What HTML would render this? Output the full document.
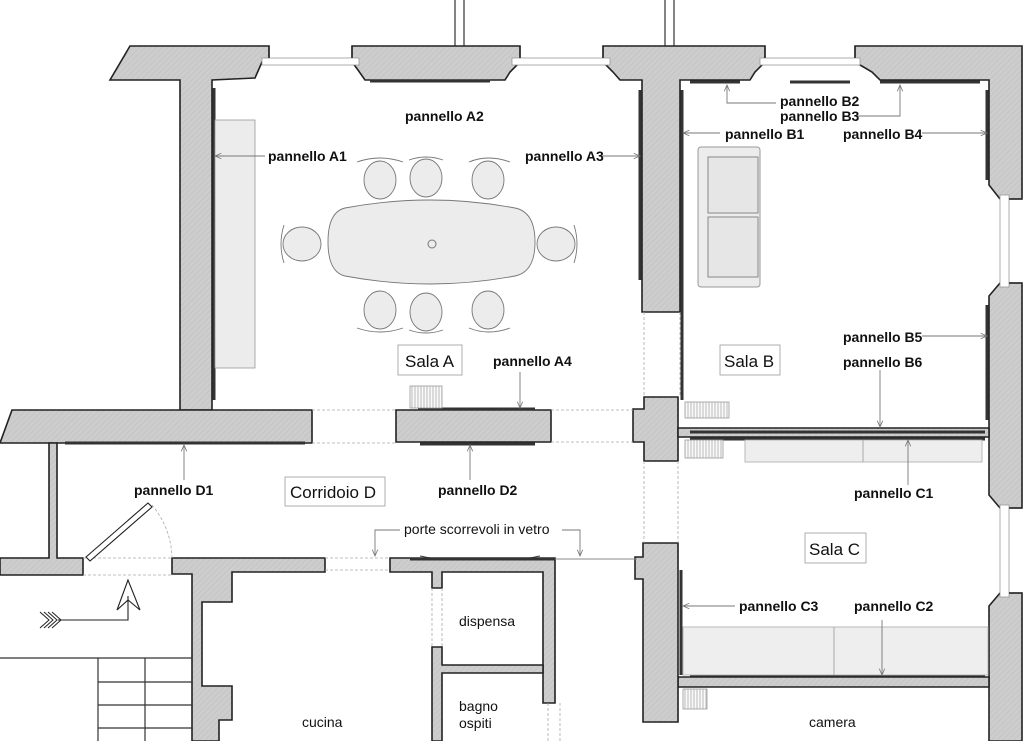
<!DOCTYPE html>
<html><head><meta charset="utf-8"><style>
html,body{margin:0;padding:0;background:#fff}
svg{display:block}
.w{fill:url(#h);stroke:#222;stroke-width:1.6}
.b{font-family:"Liberation Sans",sans-serif;font-weight:bold;font-size:14px;fill:#111}
.n{font-family:"Liberation Sans",sans-serif;font-size:14px;fill:#111}
.r{font-family:"Liberation Sans",sans-serif;font-size:17px;fill:#111}
.p{stroke:#333;stroke-width:3;fill:none}
.l{stroke:#777;stroke-width:0.9;fill:none}
.d{stroke:#aaa;stroke-width:0.8;fill:none;stroke-dasharray:3,2}
.ch{fill:#ececec;stroke:#777;stroke-width:0.9}
</style></head><body>
<svg width="1024" height="741" viewBox="0 0 1024 741" xmlns="http://www.w3.org/2000/svg">
<defs>
<pattern id="h" width="4" height="4" patternUnits="userSpaceOnUse" patternTransform="rotate(45)">
<rect width="4" height="4" fill="#cdcdcd"/><line x1="0" y1="0" x2="0" y2="4" stroke="#bdbdbd" stroke-width="1"/>
</pattern>
<pattern id="rad" width="3" height="4" patternUnits="userSpaceOnUse">
<rect width="3" height="4" fill="#fafafa"/><line x1="1" y1="0" x2="1" y2="4" stroke="#aaa" stroke-width="0.8"/>
</pattern>
<marker id="a" markerWidth="8" markerHeight="8" refX="7" refY="4" orient="auto"><path d="M0,1 L7,4 L0,7" fill="none" stroke="#777" stroke-width="0.9"/></marker>
</defs>

<path d="M455,0V46M464,0V46M665,0V46M674,0V46" stroke="#333" stroke-width="1.2"/>

<polygon class="w" points="130,46 269,46 269,58 262,62 255,78 212,80 212,410 180,410 180,80 110,80"/>
<polygon class="w" points="352,46 520,46 520,62 510,72 505,80 365,80 358,70 352,62"/>
<polygon class="w" points="603,46 765,46 765,62 755,72 750,80 680,80 680,312 642,312 642,80 620,80 613,72 603,62"/>
<polygon class="w" points="855,46 1022,46 1022,199 1000,199 1000,199 989,185 989,80 880,80 872,72 855,62"/>
<polygon class="w" points="1022,283 1022,508 1000,508 989,495 989,296 1000,283"/>
<polygon class="w" points="1022,593 1022,741 989,741 989,606 1000,593"/>
<g stroke="#999" stroke-width="0.8" fill="#fff">
<rect x="262" y="58" width="97" height="7"/><rect x="512" y="58" width="98" height="7"/><rect x="760" y="58" width="100" height="7"/>
<rect x="1000" y="195" width="9" height="92"/><rect x="1000" y="505" width="9" height="92"/>
</g>
<path d="M269,46V58M352,46V58M520,46V58M603,46V58M765,46V58M855,46V58M1022,199H1009M1022,283H1009M1022,508H1009M1022,593H1009" stroke="#222" stroke-width="1.2"/>

<polygon class="w" points="12,410 180,410 212,410 312,410 312,443 0,443"/>
<polygon class="w" points="396,410 551,410 551,442 396,442"/>
<polygon class="w" points="644,397 678,397 678,461 644,461 644,442 633,442 633,409 644,409"/>
<polygon class="w" points="678,428 989,428 989,437 678,437"/>
<polygon class="w" points="678,677 989,677 989,687 678,687"/>
<polygon class="w" points="643,543 678,543 678,722 643,722 643,579 635,579 635,557 643,557"/>
<polygon class="w" points="49,443 57,443 57,558 83,558 83,575 0,575 0,558 49,558"/>
<polygon class="w" points="172,558 325,558 325,572 232,572 232,602 202,602 202,686 232,686 232,720 219,720 219,741 192,741 192,574 172,574"/>
<polygon class="w" points="390,558 555,558 555,703 543,703 543,572 442,572 442,588 432,588 432,572 390,572"/>
<polygon class="w" points="442,665 543,665 543,673 442,673 442,741 432,741 432,647 442,647"/>

<path class="d" d="M312,410H396M312,443H396M551,410H633M551,442H633M83,558H172M83,575H172M325,558H390M325,570H390M644,312V397M680,312V397M644,461V543M678,461V543M432,588V647M442,588V647M548,703V741M560,703V741"/>

<path d="M0,658H192M98,658V741M145,658V741M98,682H192M98,705H192M98,728H192" stroke="#333" stroke-width="1.2" fill="none"/>
<path d="M58,620H128V596" stroke="#222" stroke-width="1.1" fill="none"/>
<path d="M128,580L117,610L128,600L140,610Z" fill="none" stroke="#222" stroke-width="1.1"/>
<path d="M40,612l9,8l-9,8M44,612l9,8l-9,8M48,612l9,8l-9,8M52,612l9,8l-9,8" stroke="#222" stroke-width="1" fill="none"/>
<path d="M86,557L148,503L152,507L90,561Z" fill="#fff" stroke="#222" stroke-width="1.1"/>
<path d="M152,505 A85,85 0 0 1 172,558" class="d"/>

<path class="p" d="M214,88V400M640,90V280M370,81H490M690,82H740M790,82H850M880,82H980M682,90V400M987,90V180M987,305V420M690,432H985M690,439H985M418,409H535M420,444H535M65,443H305M410,559H555M690,675H985M681,570V675"/>

<rect x="215" y="120" width="40" height="248" fill="#ececec" stroke="#999" stroke-width="0.8"/>
<rect x="698" y="147" width="62" height="140" rx="3" fill="#ececec" stroke="#999"/>
<rect x="708" y="157" width="50" height="56" fill="#e6e6e6" stroke="#888"/>
<rect x="708" y="217" width="50" height="60" fill="#e6e6e6" stroke="#888"/>
<rect x="745" y="440" width="237" height="22" fill="#eeeeee" stroke="#aaa" stroke-width="0.8"/>
<line x1="863" y1="440" x2="863" y2="462" stroke="#aaa"/>
<rect x="683" y="627" width="305" height="48" fill="#eeeeee" stroke="#aaa" stroke-width="0.8"/>
<line x1="834" y1="627" x2="834" y2="675" stroke="#aaa"/>
<g stroke="#999" stroke-width="0.8" fill="url(#rad)">
<rect x="410" y="386" width="32" height="22"/><rect x="685" y="402" width="44" height="16"/><rect x="685" y="440" width="38" height="18"/><rect x="683" y="689" width="24" height="20"/>
</g>
<path d="M345,208 Q430,192 515,208 Q535,212 535,242 Q535,272 515,276 Q430,292 345,276 Q328,272 328,242 Q328,212 345,208Z" class="ch"/>
<circle cx="432" cy="244" r="4" fill="none" stroke="#777"/>
<g class="ch">
<ellipse cx="380" cy="180" rx="16" ry="19"/><ellipse cx="426" cy="178" rx="16" ry="19"/><ellipse cx="488" cy="180" rx="16" ry="19"/>
<ellipse cx="380" cy="310" rx="16" ry="19"/><ellipse cx="426" cy="312" rx="16" ry="19"/><ellipse cx="488" cy="310" rx="16" ry="19"/>
<ellipse cx="302" cy="244" rx="19" ry="17"/><ellipse cx="556" cy="244" rx="19" ry="17"/>
</g>
<path class="l" d="M357,162Q380,154 403,162M409,160Q426,154 443,160M469,162Q488,154 510,162M357,328Q380,336 403,328M409,330Q426,336 443,330M469,328Q488,336 510,328M284,225Q278,244 284,263M574,225Q580,244 574,263"/>

<g class="l" marker-end="url(#a)">
<path d="M265,156H215"/><path d="M600,156H640"/><path d="M520,372V408"/>
<path d="M720,133H683"/><path d="M776,103H727V85"/><path d="M856,116H900V85"/><path d="M922,133H987"/>
<path d="M922,336H987"/><path d="M880,370V427"/><path d="M908,485V440"/><path d="M735,606H683"/><path d="M882,620V675"/>
<path d="M184,480V445"/><path d="M470,480V445"/>
<path d="M400,530H375V556"/><path d="M562,530H580V556"/>
</g>
<path d="M555,559H637" stroke="#888" stroke-width="0.9"/>
<path d="M420,556l10,2l-10,2M540,556l-10,2l10,2" stroke="#333" fill="none"/>

<text class="b" x="405" y="121">pannello A2</text>
<text class="b" x="268" y="161">pannello A1</text>
<text class="b" x="525" y="161">pannello A3</text>
<text class="b" x="493" y="366">pannello A4</text>
<text class="b" x="725" y="139">pannello B1</text>
<text class="b" x="780" y="106">pannello B2</text>
<text class="b" x="780" y="121">pannello B3</text>
<text class="b" x="843" y="139">pannello B4</text>
<text class="b" x="843" y="342">pannello B5</text>
<text class="b" x="843" y="367">pannello B6</text>
<text class="b" x="854" y="498">pannello C1</text>
<text class="b" x="739" y="611">pannello C3</text>
<text class="b" x="854" y="611">pannello C2</text>
<text class="b" x="134" y="495">pannello D1</text>
<text class="b" x="438" y="495">pannello D2</text>
<text class="n" x="404" y="534">porte scorrevoli in vetro</text>
<g fill="#fff" stroke="#999" stroke-width="0.8">
<rect x="398" y="345" width="64" height="30"/><rect x="720" y="345" width="60" height="30"/><rect x="285" y="477" width="100" height="29"/><rect x="805" y="533" width="61" height="30"/>
</g>
<text class="r" x="405" y="367">Sala A</text>
<text class="r" x="724" y="367">Sala B</text>
<text class="r" x="290" y="498">Corridoio D</text>
<text class="r" x="809" y="555">Sala C</text>
<text class="n" x="459" y="626">dispensa</text>
<text class="n" x="459" y="711">bagno</text>
<text class="n" x="459" y="728">ospiti</text>
<text class="n" x="302" y="727">cucina</text>
<text class="n" x="809" y="727">camera</text>
</svg>
</body></html>
